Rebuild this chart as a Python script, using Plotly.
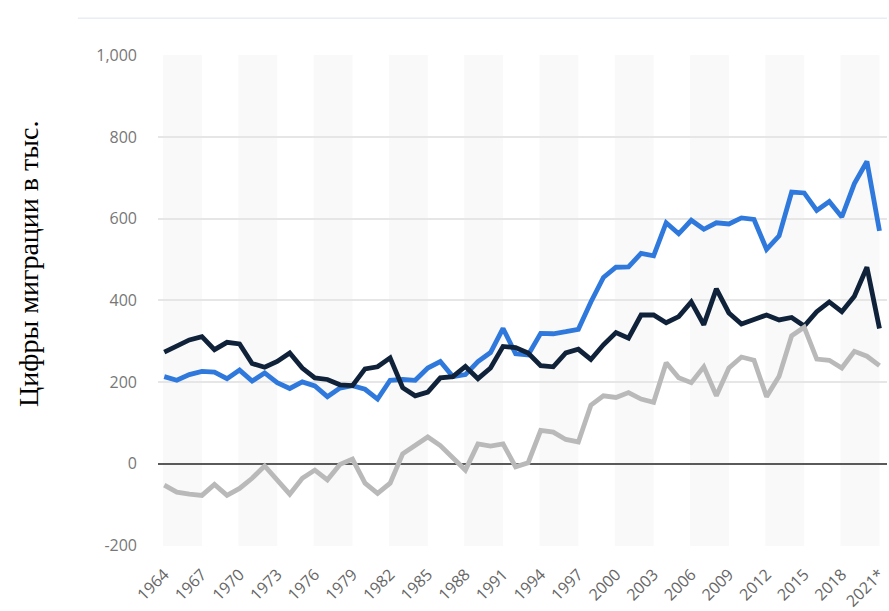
import plotly.graph_objects as go

# Long-term international migration, thousands, 1964-2021
years = list(range(1964, 2022))

immigration = [213, 204, 218, 226, 224, 208, 229, 202, 222, 198,
               184, 200, 190, 164, 185, 191, 182, 158, 204, 206,
               204, 234, 250, 213, 218, 250, 272, 331, 269, 266,
               319, 318, 323, 329, 396, 456, 481, 482, 515, 509,
               590, 563, 596, 574, 590, 587, 602, 598, 525, 558,
               665, 663, 620, 642, 604, 686, 740, 570]

emigration = [273, 287, 303, 311, 279, 297, 293, 245, 236, 250,
              271, 234, 210, 206, 193, 191, 232, 237, 259, 186,
              166, 175, 210, 213, 238, 208, 234, 287, 284, 271,
              240, 237, 271, 280, 255, 291, 321, 307, 364, 364,
              345, 360, 396, 340, 428, 369, 342, 353, 364, 352,
              358, 337, 372, 396, 372, 410, 481, 331]

net_migration = [-53, -70, -75, -78, -51, -78, -61, -36, -6, -40,
                 -75, -36, -16, -40, -2, 11, -48, -73, -48, 24,
                 44, 65, 44, 12, -16, 48, 43, 48, -8, 2,
                 81, 77, 59, 53, 143, 166, 162, 174, 158, 150,
                 247, 210, 198, 237, 166, 234, 261, 253, 164, 214,
                 313, 334, 256, 253, 234, 275, 263, 240]

tick_years = list(range(1964, 2022, 3))
tick_labels = [str(y) for y in tick_years[:-1]] + ["2021*"]
y_ticks = [-200, 0, 200, 400, 600, 800, 1000]
y_tick_labels = ["-200", "0", "200", "400", "600", "800", "1,000"]

series = [
    ("Иммиграция", immigration, "#2f78dc"),
    ("Эмиграция", emigration, "#0f2239"),
    ("Чистая миграция", net_migration, "#b9b9b9"),
]

fig = go.Figure()
for name, vals, color in series:
    fig.add_trace(go.Scatter(
        x=years, y=vals, name=name, mode="lines",
        line=dict(color=color, width=4.8),
        showlegend=False,
    ))

# alternating shaded column bands, three years wide
shapes = []
for start in range(1964, 2022, 6):
    shapes.append(dict(
        type="rect", xref="x", yref="paper", layer="below",
        x0=start - 0.1, x1=start + 3.0, y0=0, y1=1,
        fillcolor="#f9f9f9", line=dict(width=0),
    ))
# thin rule across the top of the page
shapes.append(dict(
    type="line", xref="paper", yref="paper",
    x0=-0.11, x1=1.0, y0=1.075, y1=1.075,
    line=dict(color="#e8eef4", width=1.5),
))

fig.update_layout(
    width=889, height=611,
    margin=dict(l=158, r=0, t=55, b=65),
    paper_bgcolor="white", plot_bgcolor="white",
    shapes=shapes,
    font=dict(family="Open Sans", color="#777777"),
    xaxis=dict(
        range=[1963.5, 2021.6],
        tickmode="array", tickvals=tick_years, ticktext=tick_labels,
        tickangle=-45, tickfont=dict(size=16, color="#666666"),
        showgrid=False, zeroline=False, showline=False,
        ticks="", ticklabelstandoff=15, ticklabeloverflow="allow",
    ),
    yaxis=dict(
        range=[-202, 1001],
        tickmode="array", tickvals=y_ticks, ticktext=y_tick_labels,
        tickfont=dict(size=16, color="#777777"),
        showgrid=True, gridcolor="#e6e6e6", gridwidth=1.5,
        zeroline=True, zerolinecolor="#5a5a5a", zerolinewidth=2,
        showline=False, ticks="", ticklabelstandoff=20,
    ),
    annotations=[dict(
        text="Цифры миграции в тыс.", textangle=-90,
        xref="paper", yref="paper", x=-0.178, y=0.575,
        xanchor="center", yanchor="middle", showarrow=False,
        font=dict(family="Liberation Serif", size=28, color="#000000"),
    )],
)

fig.write_html("out.html")
